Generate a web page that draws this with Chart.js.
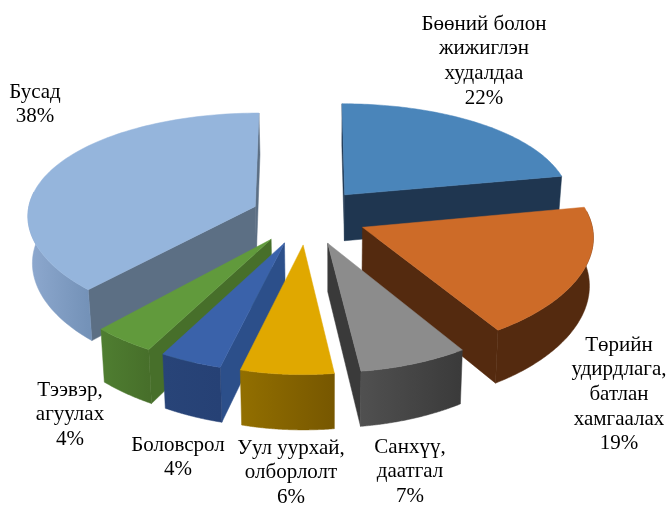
<!DOCTYPE html>
<html>
<head>
<meta charset="utf-8">
<script src="https://cdn.jsdelivr.net/npm/chart.js@4/dist/chart.umd.min.js"></script>
<style>
  html, body { margin: 0; background: #fff; }
  canvas { display: block; }
</style>
</head>
<body>
<canvas id="chart-1" width="669" height="508"></canvas>
<script>
// Data
const categories = [
  ["Бөөний болон", "жижиглэн", "худалдаа"],
  ["Төрийн", "удирдлага,", "батлан", "хамгаалах"],
  ["Санхүү,", "даатгал"],
  ["Уул уурхай,", "олборлолт"],
  ["Боловсрол"],
  ["Тээвэр,", "агуулах"],
  ["Бусад"],
];
const shares = [22, 19, 7, 6, 4, 4, 38];

// Colours
const topColors = ["#4a85ba", "#cd6b28", "#8c8c8c", "#e0a800", "#3a62aa", "#619a3c", "#95b5dc"];
const sideColors = ["#1f3650", "#542a0f", "#3a3a3a", "#7a5a00", "#2c4f8a", "#476f2a", "#5c6f84"];
const rimLeft = ["#1f3650", "#542a0f", "#505050", "#926f00", "#284478", "#4f7e31", "#8ea9cf"];
const rimRight = ["#1f3650", "#542a0f", "#3a3a3a", "#775700", "#264175", "#476f2a", "#7492b8"];
const explode = [60, 60, 60, 60, 60, 60, 56];

// Label layout: centre x and y of the first line
const labelX = [484, 619, 410, 291, 178, 70, 35];
const labelY = [24, 345, 447, 448, 445, 390, 92];
const lineGap = 24.7;

// Camera
const tilt = 0.468;
const perspX = 3000;
const perspY = 1913;
const thickness = 47;
const bottomShrink = 0.985;

function project(el, r, a, bottom) {
  const off = el.options.offset;
  const mid = (el.startAngle + el.endAngle) / 2;
  const gx = off * Math.cos(mid) + r * Math.cos(a);
  const gy = off * Math.sin(mid) + r * Math.sin(a);
  const px = perspX / (perspX - gy);
  const py = perspY / (perspY - gy);
  const xs = bottom ? bottomShrink : 1;
  return {
    x: el.x + 23 + (gx * px - 23) * xs,
    y: el.y + gy * tilt * py + (bottom ? thickness * py : 0),
  };
}

function fillPoly(ctx, pts, fill) {
  ctx.beginPath();
  pts.forEach((p, i) => (i ? ctx.lineTo(p.x, p.y) : ctx.moveTo(p.x, p.y)));
  ctx.closePath();
  ctx.fillStyle = fill;
  ctx.strokeStyle = fill;
  ctx.lineWidth = 0.5;
  ctx.fill();
  ctx.stroke();
}

function drawSlice(ctx, el, i) {
  const a0 = el.startAngle;
  const a1 = el.endAngle;
  const R = el.outerRadius;
  const apex = project(el, 0, 0, false);
  const apexB = project(el, 0, 0, true);
  const far = project(el, R, (a0 + a1) / 2, false);

  // flat walls, only the one(s) facing the camera
  [a0, a1].forEach((a) => {
    const rim = project(el, R, a, false);
    const ex = rim.x - apex.x;
    const ey = rim.y - apex.y;
    const inner = ex * (far.y - apex.y) - ey * (far.x - apex.x);
    if (inner * ex < 0) {
      fillPoly(ctx, [apex, rim, project(el, R, a, true), apexB], sideColors[i]);
    }
  });

  // round wall
  const tops = [];
  const bots = [];
  const steps = 90;
  for (let s = 0; s <= steps; s++) {
    const a = a0 + ((a1 - a0) * s) / steps;
    if (Math.sin(a) > -0.15) {
      tops.push(project(el, R, a, false));
      bots.push(project(el, R, a, true));
    }
  }
  if (tops.length > 1) {
    const xs = tops.map((p) => p.x);
    const grad = ctx.createLinearGradient(Math.min(...xs), 0, Math.max(...xs), 0);
    grad.addColorStop(0, rimLeft[i]);
    grad.addColorStop(1, rimRight[i]);
    fillPoly(ctx, tops.concat(bots.reverse()), grad);
  }

  // top face
  const face = [apex];
  for (let s = 0; s <= steps; s++) {
    face.push(project(el, R, a0 + ((a1 - a0) * s) / steps, false));
  }
  fillPoly(ctx, face, el.options.backgroundColor);
}

const pie3d = {
  id: "pie3d",
  beforeDatasetDraw(chart) {
    const ctx = chart.ctx;
    const arcs = chart.getDatasetMeta(0).data;
    const order = arcs.map((el, i) => i).sort((a, b) => {
      const depth = (el) => Math.sin((el.startAngle + el.endAngle) / 2);
      return depth(arcs[a]) - depth(arcs[b]);
    });
    ctx.save();
    order.forEach((i) => drawSlice(ctx, arcs[i], i));
    ctx.restore();
    return false;
  },
  afterDraw(chart) {
    const ctx = chart.ctx;
    ctx.save();
    ctx.font = "21px 'Liberation Serif'";
    ctx.fillStyle = "#000";
    ctx.textAlign = "center";
    ctx.textBaseline = "middle";
    categories.forEach((lines, i) => {
      lines.concat(shares[i] + "%").forEach((t, n) => {
        ctx.fillText(t, labelX[i], labelY[i] + n * lineGap);
      });
    });
    ctx.restore();
  },
};

const ctx1 = document.getElementById("chart-1").getContext("2d");
const myChart = new Chart(ctx1, {
  type: "pie",
  data: {
    labels: categories,
    datasets: [
      {
        data: shares,
        backgroundColor: topColors,
        borderWidth: 0,
        offset: explode,
      },
    ],
  },
  options: {
    responsive: false,
    animation: false,
    radius: 228,
    layout: { padding: { right: 55, bottom: 76 } },
    plugins: { legend: { display: false }, tooltip: { enabled: false } },
  },
  plugins: [pie3d],
});
</script>
</body>
</html>
